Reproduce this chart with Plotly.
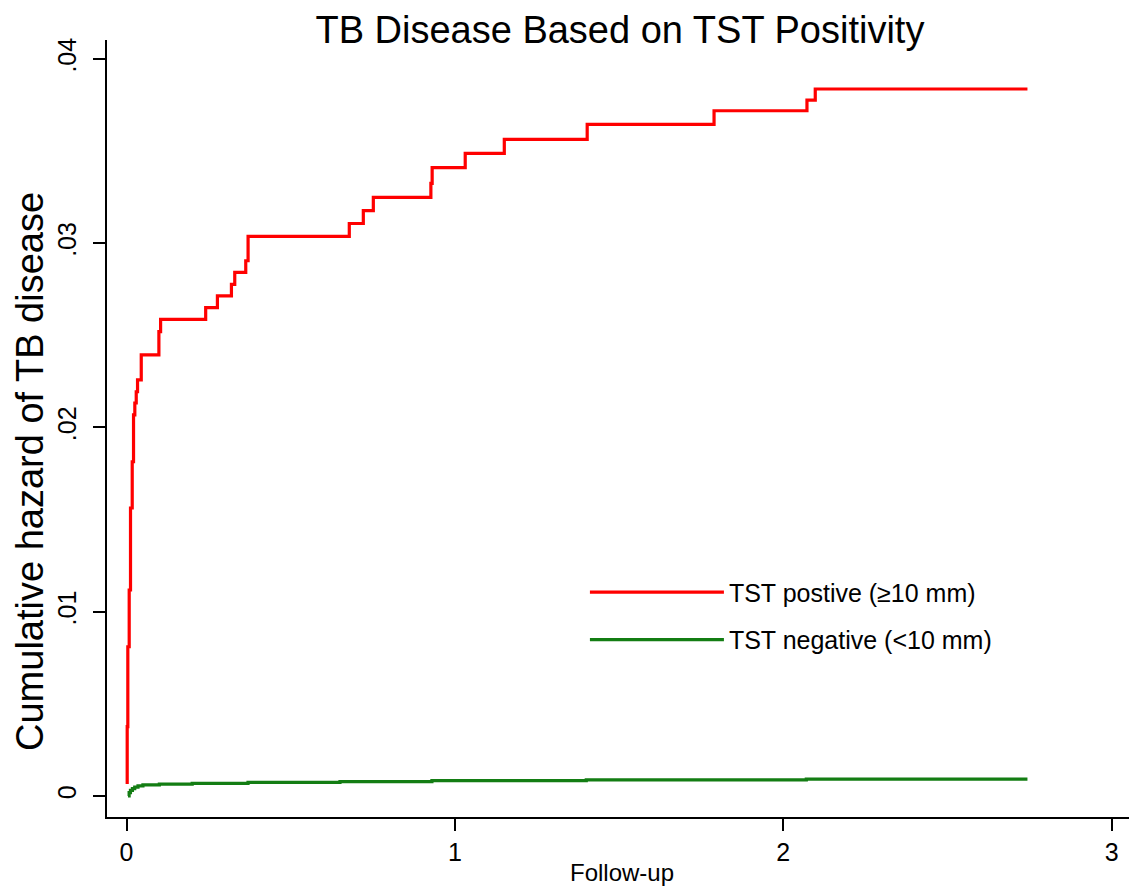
import plotly.graph_objects as go

# Cumulative hazard, TST positive (>=10 mm): step times (years) and hazard after each step
red_t = [0.0021, 0.0021, 0.0040, 0.0082, 0.0122, 0.0174, 0.0214, 0.0253, 0.0296, 0.0336,
         0.0449, 0.0986, 0.1038, 0.2411, 0.2768, 0.3195, 0.3296, 0.3631, 0.3702, 0.6784,
         0.7211, 0.7516, 0.9268, 0.9307, 1.0314, 1.1504, 1.4028, 1.7891, 2.0720, 2.0973, 2.7434]
red_h = [0.00065, 0.00376, 0.00810, 0.01118, 0.01563, 0.01814, 0.02068, 0.02133, 0.02194, 0.02258,
         0.02394, 0.02520, 0.02587, 0.02650, 0.02714, 0.02777, 0.02842, 0.02905, 0.03037, 0.03107,
         0.03177, 0.03249, 0.03325, 0.03410, 0.03488, 0.03564, 0.03645, 0.03719, 0.03777, 0.03837, 0.03837]

# Cumulative hazard, TST negative (<10 mm)
green_t = [0.0045, 0.008, 0.012, 0.018, 0.025, 0.035, 0.05, 0.10, 0.20, 0.37, 0.65, 0.93, 1.40, 2.07, 2.7434]
green_h = [0.0, 0.00018, 0.00030, 0.00040, 0.00048, 0.00055, 0.00060, 0.00064, 0.00068, 0.00074,
           0.00078, 0.00083, 0.00088, 0.00092, 0.00092]

x_ticks = [0, 1, 2, 3]
x_ticklabels = ["0", "1", "2", "3"]
y_ticks = [0, 0.01, 0.02, 0.03, 0.04]
y_ticklabels = ["0", ".01", ".02", ".03", ".04"]

FONT = "Liberation Sans, Arial, Helvetica, sans-serif"

fig = go.Figure()
fig.add_trace(go.Scatter(x=red_t, y=red_h, mode="lines", line=dict(color="#ff0000", width=3.2, shape="hv"),
                         name="TST postive (≥10 mm)", legendgroup="a"))
fig.add_trace(go.Scatter(x=green_t, y=green_h, mode="lines", line=dict(color="#137d13", width=3.2, shape="hv"),
                         name="TST negative (<10 mm)", legendgroup="b"))

fig.update_layout(
    width=1129, height=882,
    margin=dict(l=99, r=0, t=32, b=73),
    paper_bgcolor="white", plot_bgcolor="white",
    font=dict(family=FONT, color="black"),
    title=dict(text="TB Disease Based on TST Positivity", x=0.542, xanchor="center",
               y=1 - 22 / 882, yanchor="middle", font=dict(size=38, family=FONT, color="black")),
    showlegend=True,
    legend=dict(x=0.464, y=0.3186, xanchor="left", yanchor="top", xref="paper", yref="paper",
                font=dict(size=25, family=FONT, color="black"), bgcolor="rgba(0,0,0,0)",
                tracegroupgap=12, itemwidth=134, traceorder="grouped"),
    xaxis=dict(range=[-0.0594, 3.077], tickvals=x_ticks, ticktext=x_ticklabels,
               showgrid=False, zeroline=False, showline=True, linecolor="black", linewidth=2,
               ticks="outside", ticklen=12, tickwidth=2, tickcolor="black",
               tickfont=dict(size=25, family=FONT, color="black")),
    yaxis=dict(range=[-0.00114, 0.04103], tickvals=y_ticks, ticktext=y_ticklabels,
               showgrid=False, zeroline=False, showline=True, linecolor="black", linewidth=2,
               ticks="outside", ticklen=12, tickwidth=2, tickcolor="black", tickangle=-90,
               ticklabelstandoff=7,
               tickfont=dict(size=25, family=FONT, color="black")),
    annotations=[
        dict(text="Cumulative hazard of TB disease", xref="paper", yref="paper",
             x=-0.0748, y=0.4453, xanchor="center", yanchor="middle", textangle=-90,
             showarrow=False, font=dict(size=38, family=FONT, color="black")),
        dict(text="Follow-up", xref="paper", yref="paper",
             x=0.5, y=-0.0708, xanchor="center", yanchor="middle",
             showarrow=False, font=dict(size=24, family=FONT, color="black")),
    ],
)

fig.write_html("out.html")
